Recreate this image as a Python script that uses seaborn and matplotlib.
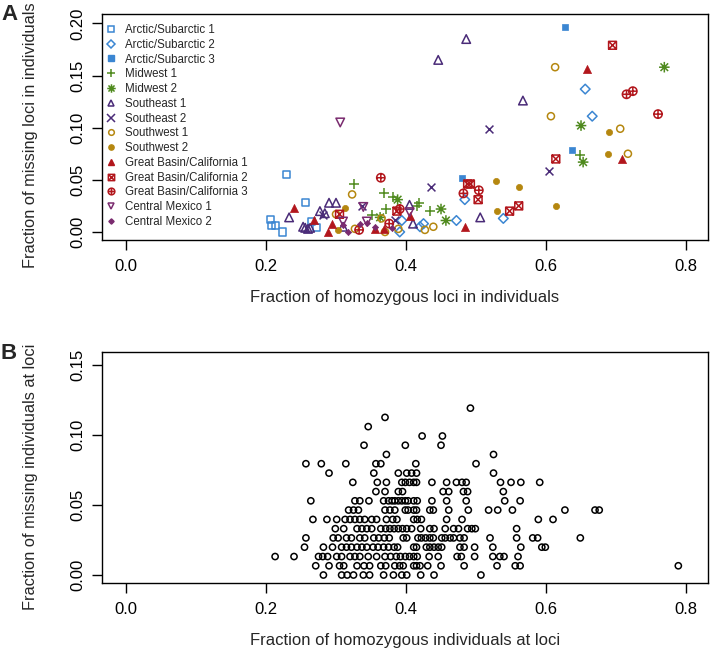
import numpy as np
import pandas as pd
import seaborn as sns
import matplotlib.pyplot as plt
from matplotlib.path import Path
from matplotlib.lines import Line2D

# ---- Panel A: individuals (fraction homozygous vs fraction missing) ----
arctic1_x = [0.206, 0.208, 0.214, 0.224, 0.229, 0.256, 0.265, 0.272]
arctic1_y = [0.012, 0.006, 0.006, 0.000, 0.055, 0.028, 0.010, 0.004]
arctic2_x = [0.656, 0.666, 0.484, 0.539, 0.472, 0.394, 0.425, 0.420, 0.391]
arctic2_y = [0.137, 0.111, 0.031, 0.013, 0.011, 0.011, 0.008, 0.005, 0.000]
arctic3_x = [0.627, 0.637, 0.480]
arctic3_y = [0.197, 0.079, 0.052]
midwest1_x = [0.648, 0.434, 0.418, 0.415, 0.382, 0.369, 0.372, 0.325, 0.352]
midwest1_y = [0.074, 0.020, 0.028, 0.025, 0.034, 0.037, 0.022, 0.046, 0.016]
midwest2_x = [0.769, 0.650, 0.653, 0.457, 0.450, 0.388, 0.363]
midwest2_y = [0.158, 0.102, 0.067, 0.011, 0.022, 0.031, 0.014]
southeast1_x = [0.486, 0.446, 0.567, 0.405, 0.410, 0.506, 0.233, 0.253, 0.260,
                0.290, 0.300, 0.277, 0.284, 0.256, 0.263, 0.310]
southeast1_y = [0.185, 0.165, 0.126, 0.026, 0.008, 0.014, 0.014, 0.005, 0.003,
                0.028, 0.028, 0.020, 0.018, 0.004, 0.004, 0.005]
southeast2_x = [0.518, 0.604, 0.435, 0.384, 0.282, 0.337]
southeast2_y = [0.099, 0.058, 0.043, 0.011, 0.016, 0.025]
southwest1_x = [0.613, 0.607, 0.706, 0.717, 0.439, 0.427, 0.389, 0.370, 0.323,
                0.300, 0.365, 0.327]
southwest1_y = [0.158, 0.111, 0.099, 0.075, 0.005, 0.002, 0.003, 0.000, 0.036,
                0.017, 0.013, 0.003]
southwest2_x = [0.690, 0.688, 0.614, 0.528, 0.561, 0.530, 0.313, 0.303]
southwest2_y = [0.096, 0.075, 0.025, 0.049, 0.043, 0.020, 0.023, 0.002]
gbc1_x = [0.659, 0.709, 0.484, 0.405, 0.240, 0.269, 0.289, 0.294, 0.356, 0.368]
gbc1_y = [0.156, 0.070, 0.005, 0.015, 0.023, 0.011, 0.000, 0.008, 0.003, 0.003]
gbc2_x = [0.695, 0.614, 0.488, 0.492, 0.503, 0.548, 0.561, 0.387, 0.305]
gbc2_y = [0.179, 0.070, 0.046, 0.046, 0.031, 0.020, 0.025, 0.020, 0.017]
gbc3_x = [0.715, 0.724, 0.760, 0.364, 0.482, 0.504, 0.391, 0.376, 0.333]
gbc3_y = [0.132, 0.135, 0.113, 0.052, 0.037, 0.040, 0.022, 0.008, 0.002]
mexico1_x = [0.306, 0.405, 0.339, 0.310, 0.344]
mexico1_y = [0.105, 0.019, 0.024, 0.010, 0.010]
mexico2_x = [0.310, 0.317, 0.334, 0.344, 0.356, 0.380]
mexico2_y = [0.007, 0.000, 0.008, 0.009, 0.005, 0.004]

group_names = ["Arctic/Subarctic 1", "Arctic/Subarctic 2", "Arctic/Subarctic 3",
               "Midwest 1", "Midwest 2", "Southeast 1", "Southeast 2",
               "Southwest 1", "Southwest 2", "Great Basin/California 1",
               "Great Basin/California 2", "Great Basin/California 3",
               "Central Mexico 1", "Central Mexico 2"]
group_x = [arctic1_x, arctic2_x, arctic3_x, midwest1_x, midwest2_x, southeast1_x,
           southeast2_x, southwest1_x, southwest2_x, gbc1_x, gbc2_x, gbc3_x,
           mexico1_x, mexico2_x]
group_y = [arctic1_y, arctic2_y, arctic3_y, midwest1_y, midwest2_y, southeast1_y,
           southeast2_y, southwest1_y, southwest2_y, gbc1_y, gbc2_y, gbc3_y,
           mexico1_y, mexico2_y]

# ---- Panel B: loci (rows of equal missing fraction) ----
loci_rows = {
    0.0000: [0.282, 0.308, 0.316, 0.325, 0.339, 0.348, 0.368, 0.382, 0.394, 0.401,
             0.421, 0.440, 0.507],
    0.0066: [0.271, 0.290, 0.305, 0.311, 0.330, 0.340, 0.348, 0.364, 0.371, 0.384,
             0.391, 0.396, 0.411, 0.415, 0.420, 0.431, 0.450, 0.483, 0.530, 0.556,
             0.563, 0.789],
    0.0132: [0.213, 0.240, 0.275, 0.281, 0.288, 0.301, 0.308, 0.320, 0.327, 0.334,
             0.346, 0.358, 0.370, 0.378, 0.386, 0.392, 0.399, 0.405, 0.411, 0.416,
             0.433, 0.446, 0.473, 0.479, 0.498, 0.524, 0.534, 0.540, 0.560],
    0.0199: [0.255, 0.282, 0.295, 0.308, 0.315, 0.322, 0.330, 0.337, 0.344, 0.353,
             0.360, 0.368, 0.375, 0.383, 0.388, 0.411, 0.415, 0.429, 0.434, 0.440,
             0.446, 0.451, 0.477, 0.483, 0.498, 0.524, 0.564, 0.594, 0.599],
    0.0265: [0.257, 0.296, 0.303, 0.315, 0.322, 0.334, 0.341, 0.354, 0.361, 0.369,
             0.376, 0.396, 0.401, 0.417, 0.422, 0.428, 0.434, 0.439, 0.451, 0.456,
             0.463, 0.468, 0.477, 0.483, 0.520, 0.558, 0.581, 0.588, 0.649],
    0.0331: [0.299, 0.311, 0.330, 0.337, 0.344, 0.351, 0.364, 0.371, 0.377, 0.383,
             0.389, 0.395, 0.401, 0.408, 0.421, 0.434, 0.440, 0.456, 0.468, 0.475,
             0.488, 0.494, 0.499, 0.558],
    0.0397: [0.267, 0.287, 0.301, 0.313, 0.320, 0.327, 0.334, 0.341, 0.351, 0.358,
             0.372, 0.381, 0.387, 0.411, 0.416, 0.422, 0.458, 0.480, 0.589, 0.610],
    0.0464: [0.318, 0.325, 0.332, 0.370, 0.377, 0.384, 0.399, 0.403, 0.411, 0.415,
             0.434, 0.439, 0.461, 0.489, 0.518, 0.531, 0.552, 0.627, 0.670, 0.676],
    0.0530: [0.264, 0.327, 0.334, 0.347, 0.368, 0.375, 0.380, 0.384, 0.389, 0.394,
             0.399, 0.403, 0.411, 0.416, 0.437, 0.458, 0.486, 0.541, 0.563],
    0.0596: [0.357, 0.370, 0.389, 0.395, 0.453, 0.461, 0.482, 0.488, 0.539],
    0.0662: [0.324, 0.359, 0.372, 0.394, 0.399, 0.405, 0.411, 0.415, 0.437, 0.458,
             0.472, 0.480, 0.486, 0.535, 0.550, 0.564, 0.591],
    0.0728: [0.290, 0.354, 0.389, 0.401, 0.408, 0.415, 0.525],
    0.0795: [0.257, 0.279, 0.314, 0.357, 0.364, 0.414, 0.500],
    0.0861: [0.372, 0.525],
    0.0927: [0.340, 0.399, 0.450],
    0.0993: [0.423, 0.452],
    0.1060: [0.346],
    0.1126: [0.370],
    0.1192: [0.492],
}

blue = "#3b86d2"
green = "#4f8a1e"
se_purple = "#4a2b78"
gold = "#b5870f"
red = "#b2161c"
mx_purple = "#7a2b6f"

# composite R-style symbols
M, L, C = Path.MOVETO, Path.LINETO, Path.CLOSEPOLY
square_x = Path([(-1, -1), (1, -1), (1, 1), (-1, 1), (-1, -1),
                 (-1, -1), (1, 1), (-1, 1), (1, -1)],
                [M, L, L, L, C, M, L, M, L])
circle_plus = Path.make_compound_path(
    Path.unit_circle(),
    Path([(-1, 0), (1, 0), (0, -1), (0, 1)], [M, L, M, L]))
asterisk = Path([(-1, 0), (1, 0), (0, -1), (0, 1),
                 (-0.72, -0.72), (0.72, 0.72), (-0.72, 0.72), (0.72, -0.72)],
                [M, L, M, L, M, L, M, L])

# (marker, colour, filled, size)
styles = [
    ("s", blue, False, 28), ("D", blue, False, 24), ("s", blue, True, 22),
    ("+", green, None, 60), (asterisk, green, False, 58),
    ("^", se_purple, False, 38), ("x", se_purple, None, 32),
    ("o", gold, False, 26), ("o", gold, True, 20),
    ("^", red, True, 34), (square_x, red, False, 32), (circle_plus, red, False, 36),
    ("v", mx_purple, False, 38), ("D", mx_purple, True, 10),
]

sns.set_theme(style="ticks")
plt.rcParams["font.family"] = ["Liberation Sans", "DejaVu Sans"]

fig = plt.figure(figsize=(7.11, 6.62), dpi=100)
W, H = 711.0, 662.0
ax_a = fig.add_axes([102 / W, 1 - 240 / H, 606 / W, 226 / H])
ax_b = fig.add_axes([102 / W, 1 - 583 / H, 606 / W, 231 / H])

handles = []
for name, xs, ys, (mk, col, filled, size) in zip(group_names, group_x, group_y, styles):
    if filled is None:
        sns.scatterplot(x=xs, y=ys, ax=ax_a, marker=mk, s=size, color=col,
                        linewidth=1.1)
        handles.append(Line2D([], [], ls="none", marker=mk, color=col,
                              markersize=6, mew=1.1))
    elif filled:
        sns.scatterplot(x=xs, y=ys, ax=ax_a, marker=mk, s=size, color=col,
                        edgecolor=col, linewidth=0.5)
        handles.append(Line2D([], [], ls="none", marker=mk, color=col,
                              markeredgecolor=col, markersize=np.sqrt(size) * 0.85))
    else:
        sns.scatterplot(x=xs, y=ys, ax=ax_a, marker=mk, s=size, color=col,
                        facecolor="none", edgecolor=col, linewidth=1.1)
        handles.append(Line2D([], [], ls="none", marker=mk, markerfacecolor="none",
                              markeredgecolor=col, markersize=np.sqrt(size) * 0.8,
                              mew=1.1))

ax_a.legend(handles, group_names, loc="upper left",
            bbox_to_anchor=(3 / 606, 1 - 10 / 226),
            frameon=False, fontsize=8.3, borderaxespad=0, borderpad=0,
            handlelength=1.0, handletextpad=0.7, labelspacing=0.24)

b_x = [x for y, xs in loci_rows.items() for x in xs]
b_y = [y for y, xs in loci_rows.items() for x in xs]
sns.scatterplot(x=b_x, y=b_y, ax=ax_b, marker="o", s=20, color="black",
                facecolor="none", edgecolor="black", linewidth=1.1)

for ax in (ax_a, ax_b):
    ax.set_xlim(-0.0343, 0.8314)
    ax.set_xticks([0.0, 0.2, 0.4, 0.6, 0.8])
    ax.set_xticklabels(["0.0", "0.2", "0.4", "0.6", "0.8"])
    for sp in ax.spines.values():
        sp.set_visible(True)
        sp.set_linewidth(1.0)
        sp.set_color("black")
    ax.tick_params(axis="both", direction="out", length=7.2, width=1.0,
                   colors="black", labelsize=12)
    ax.tick_params(axis="x", pad=6.5)
    ax.tick_params(axis="y", pad=5)

ax_a.set_ylim(-0.0077, 0.2090)
ax_a.set_yticks([0.0, 0.05, 0.10, 0.15, 0.20])
ax_a.set_yticklabels(["0.00", "0.05", "0.10", "0.15", "0.20"], rotation=90, va="center")
ax_b.set_ylim(-0.0057, 0.1593)
ax_b.set_yticks([0.0, 0.05, 0.10, 0.15])
ax_b.set_yticklabels(["0.00", "0.05", "0.10", "0.15"], rotation=90, va="center")

ax_a.set_xlabel("Fraction of homozygous loci in individuals", fontsize=12)
ax_a.set_ylabel("Fraction of missing loci in individuals", fontsize=11.8)
ax_b.set_xlabel("Fraction of homozygous individuals at loci", fontsize=12)
ax_b.set_ylabel("Fraction of missing individuals at loci", fontsize=11.8)
ax_a.xaxis.set_label_coords(0.5, -50 / 226)
ax_b.xaxis.set_label_coords(0.5, -50 / 231)
ax_a.yaxis.set_label_coords(-64 / 606, (240 - 135) / 226)
ax_b.yaxis.set_label_coords(-64 / 606, (583 - 477) / 231)

fig.text(1 / W, 1 - 4 / H, "A", fontsize=16, fontweight="bold", ha="left", va="top")
fig.text(1 / W, 1 - 343 / H, "B", fontsize=16, fontweight="bold", ha="left", va="top")

fig.savefig("out.png", dpi=100)
